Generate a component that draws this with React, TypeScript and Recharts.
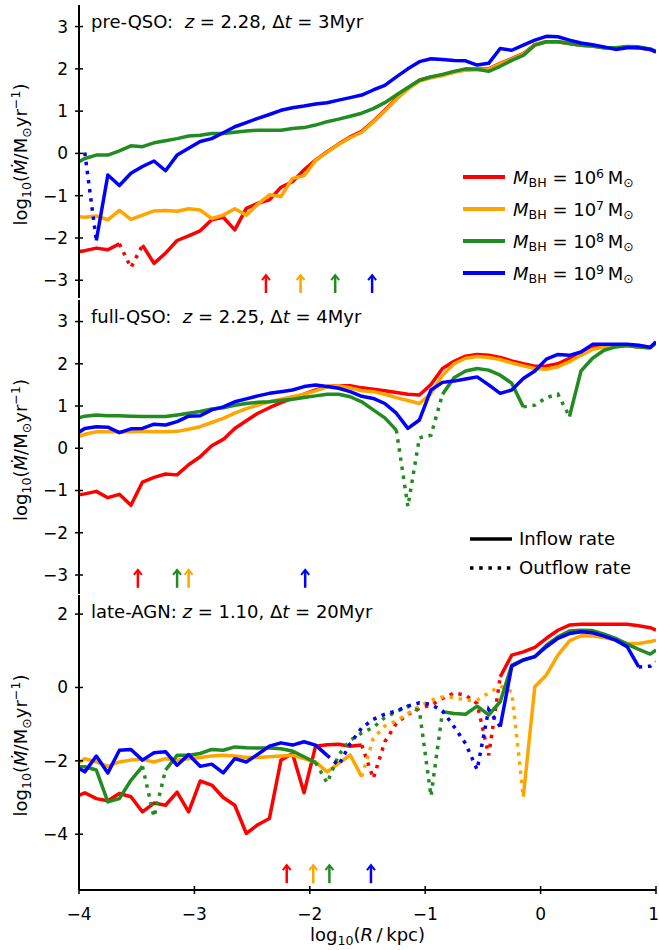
import React from 'react'
import { ComposedChart, Line, Scatter, XAxis, YAxis, Legend } from 'recharts'

const _ = null
const FONT = '"DejaVu Sans", sans-serif'

const massColors = ['#ff0000', '#ffa500', '#228b22', '#0000ff']
const massExp = [6, 7, 8, 9]

const logR = [
  -4.0, -3.95, -3.85, -3.75, -3.65, -3.55, -3.45, -3.35, -3.25, -3.15,
  -3.05, -2.95, -2.85, -2.75, -2.65, -2.55, -2.45, -2.35, -2.25, -2.15,
  -2.05, -1.95, -1.85, -1.75, -1.65, -1.55, -1.45, -1.35, -1.25, -1.15,
  -1.05, -0.95, -0.85, -0.75, -0.65, -0.55, -0.45, -0.35, -0.25, -0.15,
  -0.05, 0.05, 0.15, 0.25, 0.35, 0.45, 0.55, 0.65, 0.75, 0.85, 0.95, 1.0,
]
const xTicks = [-4, -3, -2, -1, 0, 1]

// pre-QSO
const p1Red = [
  -2.32, -2.3, -2.24, -2.28, -2.14, _, -2.17, -2.6, -2.36, -2.06,
  -1.95, -1.83, -1.57, -1.51, -1.81, -1.3, -1.18, -1.1, -0.8, -0.67,
  -0.39, -0.16, 0.04, 0.22, 0.39, 0.52, 0.76, 1.02, 1.3, 1.54,
  1.73, 1.81, 1.85, 1.93, 1.98, 1.99, 2.0, 2.13, 2.24, 2.36,
  2.57, 2.64, 2.64, 2.6, 2.56, 2.54, 2.5, 2.48, 2.52, 2.5, 2.46, 2.4,
]
const p1Orange = [
  -1.5, -1.51, -1.48, -1.57, -1.35, -1.56, -1.46, -1.36, -1.35, -1.37,
  -1.31, -1.34, -1.54, -1.46, -1.31, -1.46, -1.2, -0.98, -1.02, -0.59,
  -0.53, -0.17, 0.03, 0.21, 0.37, 0.5, 0.74, 1.0, 1.28, 1.52,
  1.71, 1.79, 1.84, 1.92, 1.97, 1.98, 1.99, 2.12, 2.23, 2.35,
  2.57, 2.64, 2.64, 2.6, 2.56, 2.54, 2.5, 2.48, 2.52, 2.5, 2.46, 2.4,
]
const p1Green = [
  -0.2, -0.12, -0.04, -0.04, 0.06, 0.18, 0.16, 0.25, 0.3, 0.35,
  0.41, 0.43, 0.47, 0.47, 0.5, 0.53, 0.55, 0.55, 0.55, 0.59,
  0.61, 0.67, 0.75, 0.81, 0.88, 0.95, 1.06, 1.2, 1.38, 1.56,
  1.73, 1.81, 1.87, 1.94, 2.0, 1.99, 1.94, 2.06, 2.2, 2.32,
  2.56, 2.64, 2.64, 2.6, 2.56, 2.54, 2.5, 2.5, 2.53, 2.52, 2.47, 2.41,
]
const p1Blue = [
  _, _, -2.06, -0.51, -0.76, -0.47, -0.31, -0.18, -0.41, -0.04,
  0.12, 0.28, 0.35, 0.49, 0.63, 0.73, 0.83, 0.92, 1.02, 1.08,
  1.12, 1.17, 1.2, 1.26, 1.32, 1.38, 1.5, 1.61, 1.81, 2.0,
  2.17, 2.24, 2.22, 2.2, 2.19, 2.09, 2.13, 2.48, 2.44, 2.56,
  2.68, 2.77, 2.76, 2.68, 2.61, 2.57, 2.52, 2.46, 2.5, 2.5, 2.46, 2.4,
]
const p1RedOut = [[-3.65, -2.14], [-3.55, -2.7], [-3.45, -2.17]]
const p1BlueOut = [[-3.95, 0.02], [-3.85, -2.06]]
const p1ArrowX = [-2.38, -2.08, -1.78, -1.46]

// full-QSO
const p2Red = [
  -1.1, -1.08, -1.02, -1.17, -1.09, -1.35, -0.8, -0.69, -0.61, -0.63,
  -0.39, -0.2, 0.06, 0.21, 0.47, 0.65, 0.83, 0.96, 1.08, 1.18,
  1.28, 1.38, 1.46, 1.48, 1.48, 1.43, 1.4, 1.36, 1.32, 1.28,
  1.26, 1.51, 1.89, 2.06, 2.18, 2.22, 2.2, 2.15, 2.07, 2.0,
  1.94, 1.95, 2.0, 2.13, 2.27, 2.38, 2.43, 2.44, 2.43, 2.4, 2.38, 2.5,
]
const p2Orange = [
  0.28, 0.33, 0.39, 0.39, 0.39, 0.39, 0.4, 0.39, 0.39, 0.4,
  0.45, 0.51, 0.61, 0.71, 0.83, 0.94, 1.02, 1.1, 1.16, 1.22,
  1.28, 1.36, 1.46, 1.48, 1.43, 1.36, 1.34, 1.28, 1.2, 1.13,
  1.06, 1.3, 1.73, 2.0, 2.13, 2.17, 2.15, 2.1, 2.02, 1.95,
  1.89, 1.87, 1.93, 2.05, 2.2, 2.34, 2.4, 2.42, 2.43, 2.4, 2.38, 2.5,
]
const p2Green = [
  0.72, 0.76, 0.79, 0.77, 0.77, 0.76, 0.75, 0.75, 0.75, 0.79,
  0.83, 0.87, 0.93, 0.96, 1.02, 1.06, 1.09, 1.1, 1.13, 1.16,
  1.2, 1.24, 1.28, 1.28, 1.22, 1.1, 0.91, 0.72, 0.43, _,
  _, _, 1.28, 1.67, 1.83, 1.89, 1.85, 1.73, 1.54, 0.98,
  _, _, _, 0.75, 1.83, 2.13, 2.32, 2.4, 2.43, 2.4, 2.38, 2.5,
]
const p2Blue = [
  0.38, 0.47, 0.51, 0.5, 0.37, 0.46, 0.47, 0.57, 0.55, 0.63,
  0.76, 0.77, 0.91, 0.98, 1.1, 1.17, 1.24, 1.3, 1.34, 1.38,
  1.46, 1.5, 1.46, 1.42, 1.34, 1.23, 1.18, 1.06, 0.83, 0.47,
  0.67, 1.38, 1.56, 1.59, 1.64, 1.69, 1.5, 1.3, 1.38, 1.65,
  1.83, 2.11, 2.22, 2.2, 2.28, 2.46, 2.46, 2.46, 2.46, 2.44, 2.39, 2.52,
]
const p2GreenOut = [
  [-1.25, 0.43], [-1.15, -1.38], [-1.05, 0.25], [-0.95, 0.31], [-0.85, 1.28],
  [-0.15, 0.98], [-0.05, 1.02], [0.05, 1.2], [0.15, 1.28], [0.25, 0.75],
]
const p2ArrowX = [-3.49, -3.05, -3.15, -2.04]

// late-AGN
const p3Red = [
  -2.94, -2.87, -3.03, -3.09, -2.89, -2.98, -3.39, -3.15, -3.21, -2.85,
  -3.39, -2.55, -2.66, -3.0, -3.21, -3.98, -3.74, -3.57, -1.98, -1.8,
  -2.87, -1.6, -1.56, -1.55, -1.6, -1.57, _, _, _, _,
  _, _, _, _, _, _, _, 0.29, 0.88, 0.97,
  1.09, 1.34, 1.56, 1.7, 1.72, 1.72, 1.72, 1.72, 1.72, 1.68, 1.63, 1.56,
]
const p3Orange = [
  -2.05, -1.94, -2.03, -2.15, -2.03, -1.98, -1.96, -2.03, -1.94, -1.98,
  -1.94, -1.91, -1.87, -1.85, -1.87, -1.91, -1.91, -1.89, -1.87, -1.85,
  -1.94, -2.03, -2.3, -2.07, -1.84, -2.43, _, _, _, _,
  _, _, _, _, _, _, _, _, _, -2.98,
  0.02, 0.34, 0.88, 1.27, 1.41, 1.4, 1.36, 1.29, 1.2, 1.2, 1.25, 1.29,
]
const p3Green = [
  -2.16, -2.16, -2.25, -3.12, -3.03, -2.53, -2.15, _, -2.25, -1.85,
  -1.85, -1.8, -1.69, -1.71, -1.62, -1.64, -1.65, -1.65, -1.67, -1.73,
  -1.89, -2.05, _, _, _, _, _, _, _, _,
  _, _, -0.66, -0.71, -0.73, -0.51, -0.75, -0.39, 0.61, 0.75,
  0.84, 1.15, 1.38, 1.54, 1.56, 1.55, 1.45, 1.34, 1.18, 1.04, 0.91, 1.02,
]
const p3Blue = [
  -2.21, -2.3, -1.87, -2.33, -1.71, -1.69, -1.98, -1.78, -1.75, -2.12,
  -1.83, -2.15, -2.09, -2.33, -1.94, -2.03, -1.82, -1.6, -1.51, -1.57,
  -1.48, -1.57, -1.85, _, _, _, _, _, _, _,
  _, _, _, _, _, _, _, -1.07, 0.58, 0.75,
  0.84, 1.11, 1.34, 1.47, 1.52, 1.49, 1.4, 1.29, 1.11, 0.56, _, _,
]
const p3RedOut = [
  [-1.55, -1.57], [-1.45, -2.48], [-1.35, -1.48], [-1.25, -0.98], [-1.15, -0.73],
  [-1.05, -0.57], [-0.95, -0.48], [-0.85, -0.3], [-0.75, -0.15], [-0.65, -0.21],
  [-0.55, -0.44], [-0.45, -1.85], [-0.35, 0.29],
]
const p3OrangeOut = [
  [-1.55, -2.43], [-1.45, -1.39], [-1.35, -1.05], [-1.25, -0.91], [-1.15, -0.71],
  [-1.05, -0.51], [-0.95, -0.35], [-0.85, -0.26], [-0.75, -0.27], [-0.65, -0.35],
  [-0.55, -0.35], [-0.45, -0.15], [-0.35, 0.04], [-0.25, -0.12], [-0.15, -2.98],
]
const p3GreenOut = [
  [-3.45, -2.15], [-3.35, -3.53], [-3.25, -2.25],
  [-1.95, -2.05], [-1.85, -2.6], [-1.75, -1.84], [-1.65, -1.44], [-1.55, -1.24],
  [-1.45, -1.09], [-1.35, -0.82], [-1.25, -0.66], [-1.15, -0.51], [-1.05, -0.64],
  [-0.95, -2.96], [-0.85, -0.66],
]
const p3BlueOut = [
  [-1.85, -1.85], [-1.75, -2.12], [-1.65, -1.53], [-1.55, -1.1], [-1.45, -0.87],
  [-1.35, -0.73], [-1.25, -0.64], [-1.15, -0.51], [-1.05, -0.42], [-0.95, -0.46],
  [-0.85, -0.64], [-0.75, -1.07], [-0.65, -1.53], [-0.55, -2.24], [-0.45, -0.6],
  [-0.35, -1.07], [0.85, 0.56], [0.95, 0.58], [1.0, 0.7],
]
const p3ArrowX = [-2.2, -1.97, -1.83, -1.47]

const AXIS = { stroke: '#000', strokeWidth: 2 }
const DOTS = '3.5 5.7'
const fmt = (v: number) => (v < 0 ? '\u2212' + Math.abs(v) : String(v))

function XTick({ x, y, payload, showLabel }: any) {
  const last = payload.value === 1
  return (
    <g>
      <line x1={x} x2={x} y1={y - 4} y2={y + 4} stroke="#000" strokeWidth={1.5} />
      {showLabel && (
        <text x={last ? x + 3 : x} y={y + 24} dy="0.35em" textAnchor={last ? 'end' : 'middle'} fontSize={17} fontFamily={FONT} fill="#000">
          {fmt(payload.value)}
        </text>
      )}
    </g>
  )
}

function YTick({ x, y, payload, showLabel }: any) {
  return (
    <g>
      <line x1={x - 4} x2={x + 4} y1={y} y2={y} stroke="#000" strokeWidth={1.5} />
      {showLabel && (
        <text x={x - 11} y={y} dy="0.35em" textAnchor="end" fontSize={17} fontFamily={FONT} fill="#000">
          {fmt(payload.value)}
        </text>
      )}
    </g>
  )
}

// rotated y label plus the panel title in the top-left corner of the plot
function SideText({ viewBox, stage, gap, z, dt }: any) {
  const cx = 27
  const cy = viewBox.y + viewBox.height / 2 + 3
  return (
    <g>
      <text transform={`rotate(-90 ${cx} ${cy})`} x={cx} y={cy} textAnchor="middle" fontSize={18} fontFamily={FONT} fill="#000">
        log<tspan fontSize={12.6} dy={4}>10</tspan>
        <tspan dy={-4}>(</tspan>
        <tspan fontStyle="italic">Ṁ</tspan>/M<tspan fontSize={12.6} dy={4}>⊙</tspan>
        <tspan dy={-4}>yr</tspan>
        <tspan fontSize={12.6} dy={-7}>−1</tspan>
        <tspan dy={7}>)</tspan>
      </text>
      <text x={viewBox.x + viewBox.width + 12} y={viewBox.y + 23} fontSize={18} fontFamily={FONT} fill="#000">
        {stage + ':' + gap}
        <tspan fontStyle="italic">z</tspan>
        {' = ' + z + ', Δ'}
        <tspan fontStyle="italic">t</tspan>
        {' = ' + dt + 'Myr'}
      </text>
    </g>
  )
}

function XLabel(props: any) {
  const vb = props.viewBox
  return (
    <text x={vb.x + vb.width / 2} y={vb.y + 51} textAnchor="middle" fontSize={18} fontFamily={FONT} fill="#000">
      log<tspan fontSize={12.6} dy={4}>10</tspan>
      <tspan dy={-4}>(</tspan>
      <tspan fontStyle="italic">R</tspan>
      {'\u2009/\u2009kpc)'}
    </text>
  )
}

function Arrow({ cx, cy, payload }: any) {
  const c = payload.c
  return (
    <g>
      <line x1={cx} x2={cx} y1={cy + 9} y2={cy - 8} stroke={c} strokeWidth={2.5} />
      <polyline points={`${cx - 4},${cy - 4} ${cx},${cy - 9} ${cx + 4},${cy - 4}`} fill="none" stroke={c} strokeWidth={2} />
    </g>
  )
}

const sub = { fontSize: '0.7em', position: 'relative' as const, top: '0.3em' }
const sup = { fontSize: '0.7em', position: 'relative' as const, top: '-0.45em' }

function MassLegend() {
  return (
    <div style={{ fontFamily: FONT, fontSize: 18, color: '#000' }}>
      {massExp.map((e, i) => (
        <div key={i} style={{ display: 'flex', alignItems: 'center', height: 32, whiteSpace: 'nowrap' }}>
          <svg width={42} height={6} style={{ marginRight: 8 }}>
            <line x1={0} x2={42} y1={3} y2={3} stroke={massColors[i]} strokeWidth={4} />
          </svg>
          <span>
            <i>M</i><span style={sub}>BH</span> = 10<span style={sup}>{e}</span>{'\u2009'}M<span style={sub}>⊙</span>
          </span>
        </div>
      ))}
    </div>
  )
}

function FlowLegend() {
  const rows = [['Inflow rate', undefined], ['Outflow rate', DOTS]]
  return (
    <div style={{ fontFamily: FONT, fontSize: 18, color: '#000' }}>
      {rows.map(([name, dash], i) => (
        <div key={i} style={{ display: 'flex', alignItems: 'center', height: 29, whiteSpace: 'nowrap' }}>
          <svg width={42} height={6} style={{ marginRight: 7 }}>
            <line x1={0} x2={42} y1={3} y2={3} stroke="#000" strokeWidth={3.5} strokeDasharray={dash} />
          </svg>
          <span>{name}</span>
        </div>
      ))}
    </div>
  )
}

function Panel(p: any) {
  const rows = logR.map((x, i) => {
    const row: Record<string, number | null> = { x }
    p.inflow.forEach((arr: (number | null)[], k: number) => {
      row['in' + k] = arr[i]
    })
    p.outflow.forEach((pairs: number[][], k: number) => {
      const hit = pairs.find((q) => q[0] === x)
      row['out' + k] = hit ? hit[1] : null
    })
    return row
  })
  const arrows = p.arrowX.map((x: number, i: number) => ({ x, y: p.arrowY, c: massColors[i] }))

  return (
    <div style={{ position: 'absolute', left: 0, top: p.top }}>
      <ComposedChart width={659} height={p.height} data={rows} margin={{ top: p.padTop, right: 3, bottom: p.padBottom, left: 0 }}>
        <XAxis
          xAxisId="b" dataKey="x" type="number" domain={[-4, 1]} ticks={xTicks} interval={0} allowDataOverflow
          height={p.axisH} tickSize={0} tickMargin={0} tickLine={false} axisLine={AXIS}
          tick={<XTick showLabel={p.xLabels} />}
          label={p.xLabels ? (lp: any) => <XLabel {...lp} /> : undefined}
        />
        <XAxis
          xAxisId="t" orientation="top" dataKey="x" type="number" domain={[-4, 1]} ticks={xTicks} interval={0} allowDataOverflow
          height={0} tickSize={0} tickMargin={0} tickLine={false} axisLine={AXIS} tick={<XTick />}
        />
        <YAxis
          yAxisId="l" type="number" domain={p.domain} ticks={p.yTicks} interval={0} allowDataOverflow
          width={79} tickSize={0} tickMargin={0} tickLine={false} axisLine={AXIS}
          tick={<YTick showLabel />}
          label={(lp: any) => <SideText {...lp} stage={p.stage} gap={p.gap} z={p.z} dt={p.dt} />}
        />
        <YAxis
          yAxisId="r" orientation="right" type="number" domain={p.domain} ticks={p.yTicks} interval={0} allowDataOverflow
          width={0} tickSize={0} tickMargin={0} tickLine={false} axisLine={AXIS} tick={<YTick />}
        />
        {massColors.map((c, k) => [
          <Line key={'in' + k} xAxisId="b" yAxisId="l" dataKey={'in' + k} stroke={c} strokeWidth={3.5}
            strokeLinejoin="round" dot={false} activeDot={false} connectNulls={false} isAnimationActive={false} />,
          <Line key={'out' + k} xAxisId="b" yAxisId="l" dataKey={'out' + k} stroke={c} strokeWidth={3.5}
            strokeDasharray={DOTS} dot={false} activeDot={false} connectNulls={false} isAnimationActive={false} />,
        ])}
        <Scatter xAxisId="t" yAxisId="r" data={arrows} dataKey="y" shape={(sp: any) => <Arrow {...sp} />} isAnimationActive={false} />
        {p.legend && (
          <Legend
            layout="vertical" align="center" verticalAlign="middle"
            wrapperStyle={{ left: p.legendPos[0], top: p.legendPos[1], width: 'auto' }}
            content={() => p.legend}
          />
        )}
      </ComposedChart>
    </div>
  )
}

export default function App() {
  return (
    <div style={{ position: 'absolute', left: 0, top: 0, width: 659, height: 950, background: '#fff', fontFamily: FONT }}>
      <Panel
        top={0} height={300} padTop={5} padBottom={2} axisH={0}
        domain={[-3.42, 3.51]} yTicks={[-3, -2, -1, 0, 1, 2, 3]}
        inflow={[p1Red, p1Orange, p1Green, p1Blue]} outflow={[p1RedOut, [], [], p1BlueOut]}
        arrowX={p1ArrowX} arrowY={-3.09}
        stage="pre-QSO" gap={'\u00a0\u00a0'} z="2.28" dt="3"
        legend={<MassLegend />} legendPos={[463, 161]}
      />
      <Panel
        top={298} height={298} padTop={2} padBottom={2} axisH={0}
        domain={[-3.45, 3.51]} yTicks={[-3, -2, -1, 0, 1, 2, 3]}
        inflow={[p2Red, p2Orange, p2Green, p2Blue]} outflow={[[], [], p2GreenOut, []]}
        arrowX={p2ArrowX} arrowY={-3.09}
        stage="full-QSO" gap={'\u00a0\u00a0'} z="2.25" dt="4"
        legend={<FlowLegend />} legendPos={[470, 226]}
      />
      <Panel
        top={593} height={357} padTop={2} padBottom={0} axisH={60} xLabels
        domain={[-5.52, 2.52]} yTicks={[-4, -2, 0, 2]}
        inflow={[p3Red, p3Orange, p3Green, p3Blue]} outflow={[p3RedOut, p3OrangeOut, p3GreenOut, p3BlueOut]}
        arrowX={p3ArrowX} arrowY={-5.09}
        stage="late-AGN" gap={'\u00a0'} z="1.10" dt="20"
      />
    </div>
  )
}
